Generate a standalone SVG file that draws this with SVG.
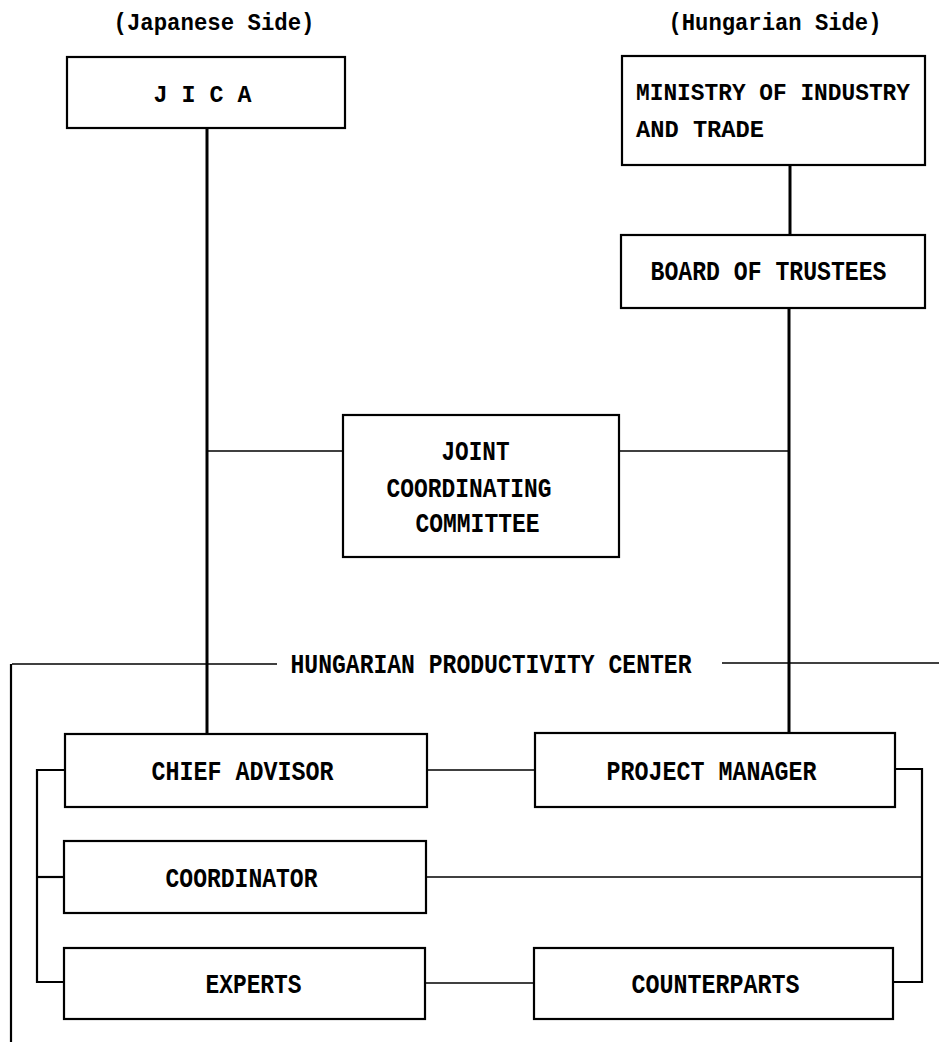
<svg xmlns="http://www.w3.org/2000/svg" width="939" height="1051" viewBox="0 0 939 1051">
<style>
.box{fill:#fff;stroke:#000;stroke-width:2.2}
.t{font-family:"Liberation Mono","DejaVu Sans Mono",monospace;font-weight:bold;font-size:27px;fill:#000}
.s{font-size:23px}
.m{font-size:24px}
.thick{stroke:#000;stroke-width:3;fill:none}
.thin{stroke:#000;stroke-width:1.6;fill:none}
.mid{stroke:#000;stroke-width:2.2;fill:none}
</style>
<rect width="939" height="1051" fill="#fff"/>
<g id="headers">
<text class="t s" x="113.5" y="30" textLength="201" lengthAdjust="spacingAndGlyphs">(Japanese Side)</text>
<text class="t s" x="668.5" y="30" textLength="213" lengthAdjust="spacingAndGlyphs">(Hungarian Side)</text>
</g>
<g id="connectors">
<line class="thick" x1="207" y1="128" x2="207" y2="734"/>
<line class="thick" x1="790" y1="165" x2="790" y2="235"/>
<line class="thick" x1="789" y1="308" x2="789" y2="733"/>
<line class="thin" x1="207" y1="451" x2="343" y2="451"/>
<line class="thin" x1="619" y1="451" x2="789" y2="451"/>
<line class="thin" x1="12" y1="664" x2="277" y2="664"/>
<line class="thin" x1="722" y1="663" x2="939" y2="663"/>
<line class="mid" x1="11" y1="664" x2="11" y2="1042"/>
<line class="thin" x1="427" y1="770" x2="535" y2="770"/>
<line class="thin" x1="425" y1="983" x2="534" y2="983"/>
<polyline class="mid" points="65,770 37,770 37,982 64,982"/>
<line class="mid" x1="37" y1="877" x2="64" y2="877"/>
<polyline class="mid" points="895,769 922,769 922,982 893,982"/>
<line class="thin" x1="426" y1="877" x2="922" y2="877"/>
</g>
<g id="jica">
<rect class="box" x="67" y="57" width="278" height="71"/>
<text class="t s" x="153.5" y="102" textLength="98" lengthAdjust="spacingAndGlyphs">J I C A</text>
</g>
<g id="ministry">
<rect class="box" x="622" y="56" width="303" height="109"/>
<text class="t m" x="636" y="100" textLength="274" lengthAdjust="spacingAndGlyphs">MINISTRY OF INDUSTRY</text>
<text class="t m" x="636" y="137" textLength="128" lengthAdjust="spacingAndGlyphs">AND TRADE</text>
</g>
<g id="board">
<rect class="box" x="621" y="235" width="304" height="73"/>
<text class="t" x="650.5" y="280" textLength="236" lengthAdjust="spacingAndGlyphs">BOARD OF TRUSTEES</text>
</g>
<g id="jcc">
<rect class="box" x="343" y="415" width="276" height="142"/>
<text class="t" x="441.5" y="460" textLength="68" lengthAdjust="spacingAndGlyphs">JOINT</text>
<text class="t" x="386.5" y="497" textLength="165" lengthAdjust="spacingAndGlyphs">COORDINATING</text>
<text class="t" x="415.5" y="532" textLength="124" lengthAdjust="spacingAndGlyphs">COMMITTEE</text>
</g>
<g id="hpc">
<text class="t" x="290.5" y="673" textLength="401" lengthAdjust="spacingAndGlyphs">HUNGARIAN PRODUCTIVITY CENTER</text>
</g>
<g id="chief-advisor">
<rect class="box" x="65" y="734" width="362" height="73"/>
<text class="t" x="151.5" y="780" textLength="182" lengthAdjust="spacingAndGlyphs">CHIEF ADVISOR</text>
</g>
<g id="project-manager">
<rect class="box" x="535" y="733" width="360" height="74"/>
<text class="t" x="606.5" y="780" textLength="210" lengthAdjust="spacingAndGlyphs">PROJECT MANAGER</text>
</g>
<g id="coordinator">
<rect class="box" x="64" y="841" width="362" height="72"/>
<text class="t" x="165.5" y="887" textLength="152" lengthAdjust="spacingAndGlyphs">COORDINATOR</text>
</g>
<g id="experts">
<rect class="box" x="64" y="948" width="361" height="71"/>
<text class="t" x="205.5" y="993" textLength="96" lengthAdjust="spacingAndGlyphs">EXPERTS</text>
</g>
<g id="counterparts">
<rect class="box" x="534" y="948" width="359" height="71"/>
<text class="t" x="631.5" y="993" textLength="168" lengthAdjust="spacingAndGlyphs">COUNTERPARTS</text>
</g>
</svg>
